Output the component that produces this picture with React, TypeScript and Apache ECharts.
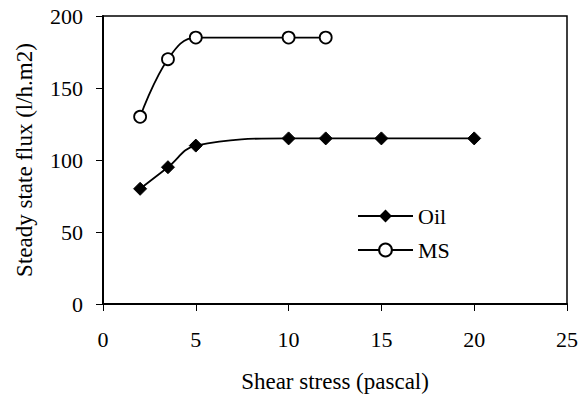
import React, { useEffect, useRef } from "react";
import * as echarts from "echarts";

const oilX = [2, 3.5, 5, 10, 12, 15, 20];
const oilY = [80, 95, 110, 115, 115, 115, 115];
const msX = [2, 3.5, 5, 10, 12];
const msY = [130, 170, 185, 185, 185];
const xTicks = [0, 5, 10, 15, 20, 25];
const yTicks = [0, 50, 100, 150, 200];

const FONT = "Liberation Serif, Times New Roman, serif";

export default function App() {
  const ref = useRef<HTMLDivElement>(null);
  useEffect(() => {
    if (!ref.current) return;
    const chart = echarts.init(ref.current, undefined, { renderer: "svg" });
    chart.setOption({
      animation: false,
      backgroundColor: "#ffffff",
      textStyle: { fontFamily: FONT, color: "#000" },
      grid: {
        left: 103,
        right: 12,
        top: 16,
        bottom: 94,
        show: true,
        borderColor: "#000",
        borderWidth: 1.5,
      },
      legend: {
        orient: "vertical",
        left: 357,
        top: 205,
        padding: 0,
        itemWidth: 55,
        itemHeight: 16,
        itemGap: 12,
        textStyle: { fontFamily: FONT, fontSize: 22, color: "#000" },
        data: ["Oil", "MS"],
      },
      xAxis: {
        type: "value",
        min: xTicks[0],
        max: xTicks[xTicks.length - 1],
        interval: 5,
        name: "Shear stress (pascal)",
        nameLocation: "middle",
        nameGap: 66,
        nameTextStyle: { fontFamily: FONT, fontSize: 23, color: "#000" },
        axisLine: { lineStyle: { color: "#000", width: 2 } },
        axisTick: { show: true, inside: false, length: 7, lineStyle: { color: "#000", width: 1 } },
        axisLabel: { fontFamily: FONT, fontSize: 22, color: "#000", margin: 24 },
        splitLine: { show: false },
      },
      yAxis: {
        type: "value",
        min: yTicks[0],
        max: yTicks[yTicks.length - 1],
        interval: 50,
        name: "Steady state flux (l/h.m2)",
        nameLocation: "middle",
        nameGap: 67,
        nameRotate: 90,
        nameTextStyle: { fontFamily: FONT, fontSize: 23, color: "#000" },
        axisLine: { show: true, lineStyle: { color: "#000", width: 2 } },
        axisTick: { show: true, inside: false, length: 7, lineStyle: { color: "#000", width: 1 } },
        axisLabel: { fontFamily: FONT, fontSize: 22, color: "#000", margin: 20 },
        splitLine: { show: false },
      },
      series: [
        {
          name: "Oil",
          type: "line",
          data: oilX.map((x, i) => [x, oilY[i]]),
          smooth: 0.4,
          symbol: "diamond",
          symbolSize: 13,
          showAllSymbol: true,
          lineStyle: { color: "#000", width: 1.8 },
          itemStyle: { color: "#000", borderColor: "#000" },
        },
        {
          name: "MS",
          type: "line",
          data: msX.map((x, i) => [x, msY[i]]),
          smooth: 0.4,
          symbol: "circle",
          symbolSize: 12,
          showAllSymbol: true,
          lineStyle: { color: "#000", width: 1.8 },
          itemStyle: { color: "#fff", borderColor: "#000", borderWidth: 1.8 },
        },
      ],
    });
    return () => chart.dispose();
  }, []);
  return (
    <div
      ref={ref}
      style={{ position: "absolute", left: 0, top: 0, width: 581, height: 398 }}
    />
  );
}
